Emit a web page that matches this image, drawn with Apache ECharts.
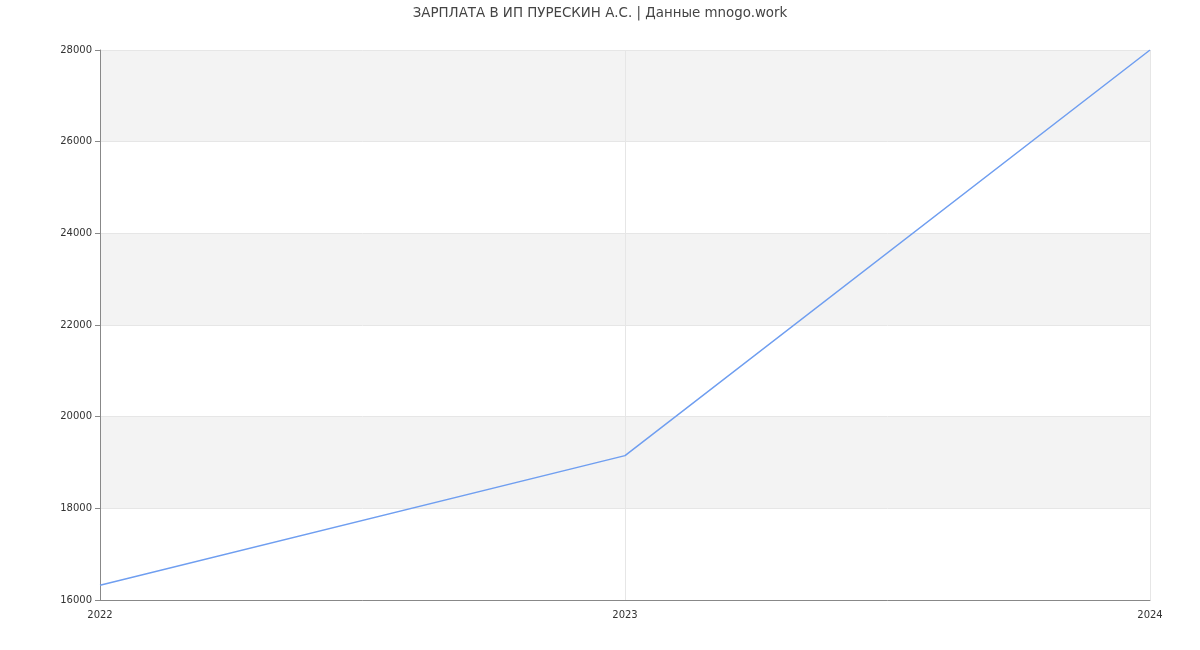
<!DOCTYPE html>
<html><head><meta charset="utf-8">
<script src="https://cdn.jsdelivr.net/npm/echarts@6/dist/echarts.min.js"></script>
<style>html,body{margin:0;padding:0;background:#fff}#c{width:1200px;height:650px}</style>
</head><body><div id="c"></div>
<script>
const years = ['2022', '2023', '2024'];
const salary = [16320, 19150, 28000];
const titleText = 'ЗАРПЛАТА В ИП ПУРЕСКИН А.С. | Данные mnogo.work';

const chart = echarts.init(document.getElementById('c'), null, {renderer: 'canvas'});
chart.setOption({
  animation: false,
  backgroundColor: '#fff',
  textStyle: {fontFamily: 'DejaVu Sans'},
  title: {text: titleText, left: 'center', top: 2,
    textStyle: {fontSize: 13.4, fontWeight: 'normal', color: '#444', fontFamily: 'DejaVu Sans'}},
  grid: {left: 100, right: 50, top: 50, bottom: 50},
  xAxis: {type: 'category', data: years, boundaryGap: false,
    axisLine: {lineStyle: {color: '#888'}},
    axisTick: {show: false},
    axisLabel: {color: '#333', fontSize: 10, margin: 10},
    splitLine: {show: true, lineStyle: {color: '#e6e6e6'}}},
  yAxis: {type: 'value', min: 16000, max: 28000, interval: 2000,
    axisLine: {show: true, lineStyle: {color: '#888'}},
    axisTick: {show: true, lineStyle: {color: '#888'}},
    axisLabel: {color: '#333', fontSize: 10, formatter: v => String(v)},
    splitLine: {show: true, lineStyle: {color: '#e6e6e6'}},
    splitArea: {show: true, areaStyle: {color: ['#ffffff', '#f3f3f3']}}},
  series: [{type: 'line', data: salary, symbol: 'none',
    lineStyle: {color: '#6f9ef0', width: 1.5}, itemStyle: {color: '#6f9ef0'}}]
});
</script></body></html>
